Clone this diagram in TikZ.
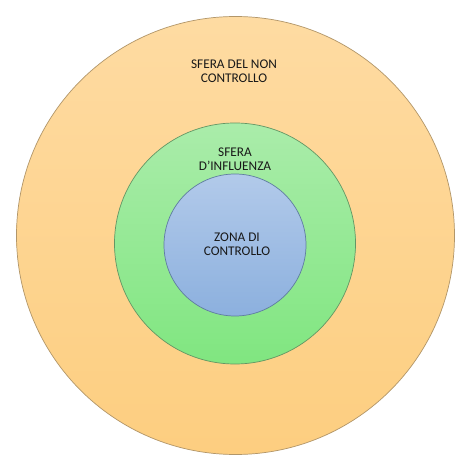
\documentclass[tikz,border=0pt]{standalone}
\usepackage{fontspec}
\setmainfont{Carlito}
\usepackage{xcolor}
\usetikzlibrary{positioning}

\definecolor{orangetop}{RGB}{254,219,162}
\definecolor{orangebot}{RGB}{253,206,128}
\definecolor{orangeline}{RGB}{178,150,105}
\definecolor{greentop}{RGB}{170,236,170}
\definecolor{greenbot}{RGB}{128,230,128}
\definecolor{greenline}{RGB}{100,150,100}
\definecolor{bluetop}{RGB}{178,202,234}
\definecolor{bluebot}{RGB}{140,176,222}
\definecolor{blueline}{RGB}{95,125,160}

\begin{document}
\begin{tikzpicture}[x=1pt, y=-1pt,
  zone/.style={circle, inner sep=0pt, line width=0.7pt},
  label/.style={align=center, font=\fontsize{13.3}{14.3}\selectfont, text=black!90}]
\useasboundingbox (0,0) rectangle (474,465);
\fill[white] (0,0) rectangle (474,465);

% Circles
\node[zone, draw=orangeline, top color=orangetop, bottom color=orangebot, minimum size=438pt] (outer) at (235.5,235.5) {};
\node[zone, draw=greenline, top color=greentop, bottom color=greenbot, minimum size=241pt] (middle) at (235,243.5) {};
\node[zone, draw=blueline, top color=bluetop, bottom color=bluebot, minimum size=142pt] (inner) at (235,245) {};

% Labels
\node[label] (nocontrol) at (234,71) {SFERA DEL NON\\CONTROLLO};
\node[label] (influence) at (235,159.5) {SFERA\\D’INFLUENZA};
\node[label] (control) at (237,244.5) {ZONA DI\\CONTROLLO};
\end{tikzpicture}
\end{document}
